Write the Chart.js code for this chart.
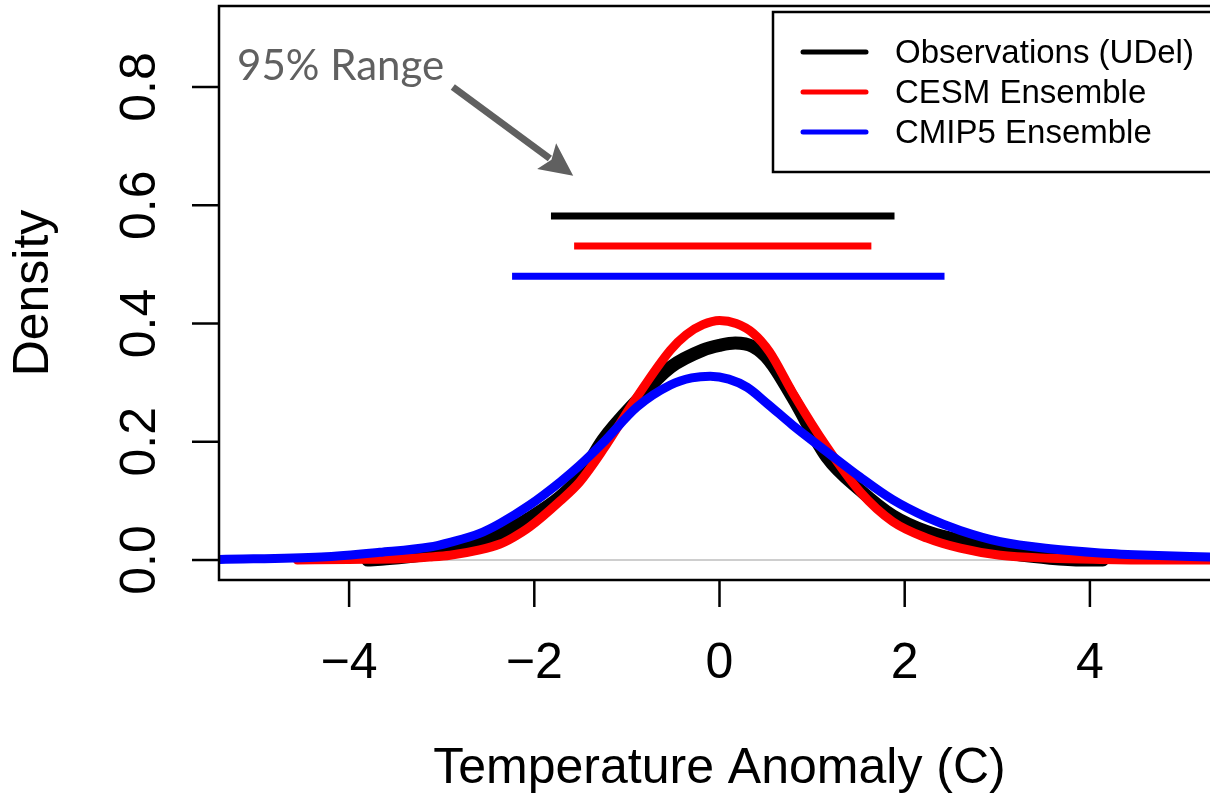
<!DOCTYPE html>
<html>
<head>
<meta charset="utf-8">
<script src="https://cdn.jsdelivr.net/npm/chart.js@4.4.1/dist/chart.umd.min.js"></script>
<style>
    html, body { margin: 0; padding: 0; background: #fff; }
    #wrap { width: 1210px; height: 796px; position: relative; }
</style>
</head>
<body>
<div id="wrap"><canvas id="chartDensity"></canvas></div>
<script>
// density of temperature anomalies (C)
const obsX = [-3.8, -3.6, -3.13, -2.91, -2.59, -2.37, -2.23, -2.05, -1.72, -1.51, -1.26, -0.89, -0.53, -0.18, 0.0, 0.17, 0.36, 0.54, 0.79, 1.16, 1.52, 1.87, 2.24, 2.6, 3.03, 3.57, 3.93, 4.14];
const obsY = [0.000, 0.002, 0.010, 0.016, 0.033, 0.043, 0.055, 0.071, 0.107, 0.140, 0.203, 0.270, 0.326, 0.355, 0.363, 0.367, 0.361, 0.337, 0.275, 0.174, 0.118, 0.075, 0.048, 0.033, 0.014, 0.003, 0.000, 0.000];

const cesmX = [-4.56, -4.0, -3.45, -3.13, -2.91, -2.59, -2.37, -2.23, -2.05, -1.72, -1.51, -1.26, -0.89, -0.53, -0.36, -0.18, 0.0, 0.18, 0.36, 0.54, 0.79, 1.16, 1.52, 1.87, 2.24, 2.6, 3.03, 3.57, 4.11, 4.7, 5.3];
const cesmY = [0.000, 0.001, 0.002, 0.005, 0.008, 0.017, 0.027, 0.038, 0.056, 0.100, 0.132, 0.186, 0.276, 0.355, 0.381, 0.398, 0.405, 0.400, 0.384, 0.352, 0.283, 0.191, 0.115, 0.065, 0.037, 0.020, 0.008, 0.003, 0.001, 0.000, 0.000];

const cmipX = [-5.4, -4.3, -3.67, -3.13, -2.91, -2.59, -2.37, -2.05, -1.72, -1.51, -1.26, -0.89, -0.53, -0.3, -0.1, 0.1, 0.3, 0.52, 0.79, 1.16, 1.52, 1.87, 2.24, 2.6, 3.03, 3.57, 4.11, 4.65, 5.3];
const cmipY = [0.001, 0.005, 0.013, 0.022, 0.030, 0.045, 0.062, 0.093, 0.132, 0.160, 0.198, 0.259, 0.296, 0.308, 0.311, 0.306, 0.292, 0.264, 0.228, 0.183, 0.140, 0.102, 0.072, 0.050, 0.031, 0.019, 0.012, 0.008, 0.005];

// 95% ranges, drawn as horizontal bars above the curves
const obsRange = [-1.82, 1.89];
const cesmRange = [-1.57, 1.64];
const cmipRange = [-2.24, 2.43];
const rangeLevels = [0.582, 0.531, 0.480];

const seriesNames = ['Observations (UDel)', 'CESM Ensemble', 'CMIP5 Ensemble'];
const seriesColors = ['#000000', '#ff0000', '#0000ff'];

const xTicks = [-4, -2, 0, 2, 4];
const yTicks = [0.0, 0.2, 0.4, 0.6, 0.8];

const xLimits = [-5.405, 5.297];
const yLimits = [-0.0338, 0.937];

// "95% Range" note and its arrow, in data units
const noteText = '95% Range';
const notePos = [-5.21, 0.812];
const arrowFrom = [-2.88, 0.800];
const arrowTo = [-1.58, 0.650];

const FONT = "'Liberation Sans', Arial, Helvetica, sans-serif";

function points(xs, ys) {
    return xs.map((x, i) => ({ x: x, y: ys[i] }));
}

function rangeBar(range, level, color) {
    return {
        data: [{ x: range[0], y: level }, { x: range[1], y: level }],
        borderColor: color,
        borderWidth: 7,
        borderCapStyle: 'butt',
        pointRadius: 0,
        order: 0
    };
}

function densityLine(xs, ys, color, width, order) {
    return {
        data: points(xs, ys),
        borderColor: color,
        borderWidth: width,
        borderCapStyle: 'round',
        borderJoinStyle: 'round',
        cubicInterpolationMode: 'monotone',
        pointRadius: 0,
        order: order
    };
}

const frame = {
    id: 'frame',
    beforeDatasetsDraw(chart) {
        const { ctx, chartArea, scales } = chart;
        const y0 = scales.y.getPixelForValue(0);
        ctx.save();
        ctx.strokeStyle = '#bebebe';
        ctx.lineWidth = 1.5;
        ctx.beginPath();
        ctx.moveTo(chartArea.left, y0);
        ctx.lineTo(chartArea.right, y0);
        ctx.stroke();
        ctx.restore();
    },
    afterDraw(chart) {
        const { ctx, chartArea, scales } = chart;
        const { left, right, top, bottom } = chartArea;
        const xs = scales.x, ys = scales.y;
        ctx.save();

        // box around the plot, right side runs off the canvas
        ctx.strokeStyle = '#000';
        ctx.lineWidth = 2.5;
        ctx.strokeRect(left, top, right - left + 20, bottom - top);

        ctx.fillStyle = '#000';
        ctx.font = '50px ' + FONT;

        // x axis ticks + labels
        ctx.textAlign = 'center';
        ctx.textBaseline = 'alphabetic';
        xTicks.forEach(v => {
            const px = xs.getPixelForValue(v);
            ctx.beginPath();
            ctx.moveTo(px, bottom);
            ctx.lineTo(px, bottom + 27);
            ctx.stroke();
            ctx.fillText(String(v).replace('-', '\u2212'), px, 678);
        });

        // y axis ticks + rotated labels
        yTicks.forEach(v => {
            const py = ys.getPixelForValue(v);
            ctx.beginPath();
            ctx.moveTo(left - 27, py);
            ctx.lineTo(left, py);
            ctx.stroke();
            ctx.save();
            ctx.translate(155, py);
            ctx.rotate(-Math.PI / 2);
            ctx.fillText(v.toFixed(1), 0, 0);
            ctx.restore();
        });

        // axis titles
        ctx.fillText('Temperature Anomaly (C)', xs.getPixelForValue(0), 783);
        ctx.save();
        ctx.translate(48, (top + bottom) / 2);
        ctx.rotate(-Math.PI / 2);
        ctx.fillText('Density', 0, 0);
        ctx.restore();

        // legend
        ctx.lineWidth = 2.5;
        ctx.strokeRect(773, 12, 460, 160);
        ctx.font = '33px ' + FONT;
        ctx.textAlign = 'left';
        ctx.textBaseline = 'middle';
        seriesNames.forEach((name, i) => {
            const ly = 52 + i * 40;
            ctx.strokeStyle = seriesColors[i];
            ctx.lineWidth = 5;
            ctx.lineCap = 'round';
            ctx.beginPath();
            ctx.moveTo(803, ly);
            ctx.lineTo(866, ly);
            ctx.stroke();
            ctx.fillStyle = '#000';
            ctx.fillText(name, 895, ly + 2);
        });

        // note with arrow
        ctx.fillStyle = '#606060';
        ctx.strokeStyle = '#606060';
        ctx.font = "42px Lato, 'Open Sans', sans-serif";
        ctx.textBaseline = 'alphabetic';
        ctx.fillText(noteText, xs.getPixelForValue(notePos[0]), ys.getPixelForValue(notePos[1]));

        const ax = xs.getPixelForValue(arrowFrom[0]), ay = ys.getPixelForValue(arrowFrom[1]);
        const bx = xs.getPixelForValue(arrowTo[0]), by = ys.getPixelForValue(arrowTo[1]);
        const ang = Math.atan2(by - ay, bx - ax);
        const headLen = 33, headHalf = 16;
        const hx = bx - headLen * Math.cos(ang), hy = by - headLen * Math.sin(ang);
        ctx.lineWidth = 7;
        ctx.lineCap = 'butt';
        ctx.beginPath();
        ctx.moveTo(ax, ay);
        ctx.lineTo(hx + 4 * Math.cos(ang), hy + 4 * Math.sin(ang));
        ctx.stroke();
        ctx.beginPath();
        ctx.moveTo(bx, by);
        ctx.lineTo(hx - headHalf * Math.sin(ang), hy + headHalf * Math.cos(ang));
        ctx.lineTo(hx + 6 * Math.cos(ang), hy + 6 * Math.sin(ang));
        ctx.lineTo(hx + headHalf * Math.sin(ang), hy - headHalf * Math.cos(ang));
        ctx.closePath();
        ctx.fill();

        ctx.restore();
    }
};

new Chart(document.getElementById('chartDensity'), {
    type: 'line',
    data: {
        datasets: [
            rangeBar(obsRange, rangeLevels[0], seriesColors[0]),
            rangeBar(cesmRange, rangeLevels[1], seriesColors[1]),
            rangeBar(cmipRange, rangeLevels[2], seriesColors[2]),
            densityLine(cmipX, cmipY, seriesColors[2], 9, 1),
            densityLine(cesmX, cesmY, seriesColors[1], 9, 2),
            densityLine(obsX, obsY, seriesColors[0], 13, 3)
        ]
    },
    options: {
        responsive: true,
        maintainAspectRatio: false,
        animation: false,
        layout: {
            padding: { left: 219, top: 6, right: 0, bottom: 216 }
        },
        plugins: {
            legend: { display: false },
            tooltip: { enabled: false }
        },
        scales: {
            x: {
                type: 'linear',
                min: xLimits[0],
                max: xLimits[1],
                display: false
            },
            y: {
                type: 'linear',
                min: yLimits[0],
                max: yLimits[1],
                display: false
            }
        }
    },
    plugins: [frame]
});
</script>
</body>
</html>
